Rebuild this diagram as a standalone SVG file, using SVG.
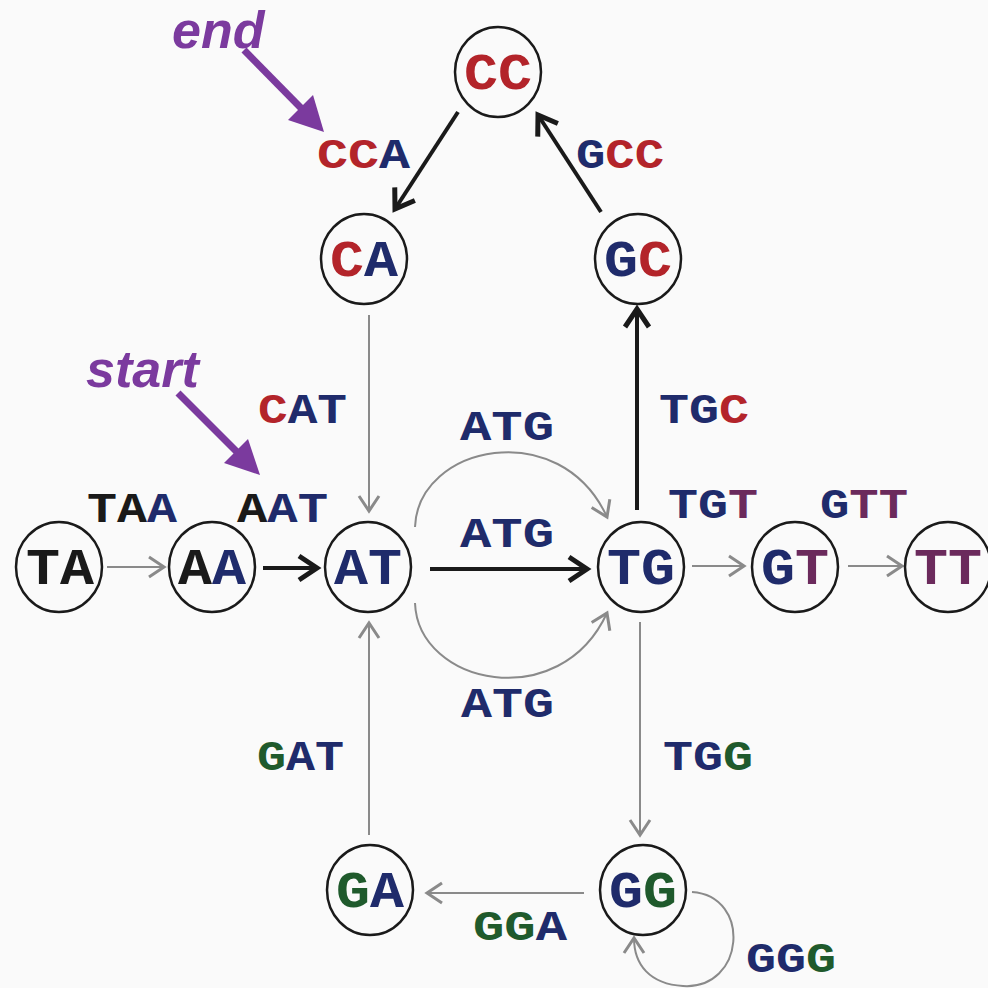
<svg xmlns="http://www.w3.org/2000/svg" width="988" height="988" viewBox="0 0 988 988">
  <style>
    .bg { fill: #fafafa; }
    .node ellipse { fill: none; stroke: #1a1a1a; stroke-width: 2.5; }
    .nl { font-family: "Liberation Mono", "Courier New", monospace; font-weight: bold; font-size: 52px; text-anchor: middle; }
    .el { font-family: "Liberation Mono", "Courier New", monospace; font-weight: bold; font-size: 42px; }
    .note { font-family: "Liberation Sans", Arial, sans-serif; font-weight: bold; font-style: italic; font-size: 52px; fill: #7b3a9e; }
    .k { fill: #1a1a1a; }
    .b { fill: #1f2b6b; }
    .r { fill: #b3242a; }
    .g { fill: #1f5a2c; }
    .p { fill: #6b2a5c; }
    .thin { fill: none; stroke: #8a8a8a; stroke-width: 2; marker-end: url(#ahGray); }
    .thick { fill: none; stroke: #1a1a1a; stroke-width: 4; marker-end: url(#ahBlack); }
    .pointer { stroke: #7b3a9e; stroke-width: 7; }
    .pointer-head { fill: #7b3a9e; }
  </style>
  <defs>
    <marker id="ahGray" markerUnits="userSpaceOnUse" markerWidth="30" markerHeight="30" refX="0" refY="0" orient="auto" overflow="visible">
      <path d="M-15,-10 L0,0 L-15,10" fill="none" stroke="#8a8a8a" stroke-width="3"/>
    </marker>
    <marker id="ahBlack" markerUnits="userSpaceOnUse" markerWidth="30" markerHeight="30" refX="0" refY="0" orient="auto" overflow="visible">
      <path d="M-18,-12 L0,0 L-18,12" fill="none" stroke="#1a1a1a" stroke-width="5"/>
    </marker>
  </defs>

  <rect class="bg" x="0" y="0" width="988" height="988"/>

  <!-- connectors -->
  <g id="connectors">
    <!-- heavy path edges -->
    <line class="thick" x1="458" y1="112" x2="395" y2="209"/>
    <line class="thick" x1="601" y1="212" x2="538" y2="115"/>
    <line class="thick" x1="637" y1="510" x2="637" y2="309"/>
    <line class="thick" x1="263" y1="568" x2="317" y2="568"/>
    <line class="thick" x1="430" y1="569" x2="587" y2="569"/>
    <!-- light edges -->
    <line class="thin" x1="107" y1="567" x2="164" y2="567"/>
    <line class="thin" x1="369" y1="315" x2="369" y2="511"/>
    <line class="thin" x1="369" y1="835" x2="369" y2="623"/>
    <line class="thin" x1="692" y1="566" x2="744" y2="566"/>
    <line class="thin" x1="848" y1="566" x2="902" y2="566"/>
    <line class="thin" x1="640" y1="622" x2="640" y2="835"/>
    <line class="thin" x1="584" y1="893" x2="427" y2="893"/>
    <path class="thin" d="M415,527 C418,445 560,415 607,517"/>
    <path class="thin" d="M415,603 C418,685 560,715 607,613"/>
    <path class="thin" d="M692,892 C752,896 745,990 683,986 C650,984 634,965 634,938"/>
  </g>

  <!-- nodes -->
  <g id="CC" class="node"><ellipse cx="498" cy="72" rx="43" ry="45"/><text class="nl" x="498" y="89" textLength="68" lengthAdjust="spacingAndGlyphs"><tspan class="r">C</tspan><tspan class="r">C</tspan></text></g>
  <g id="CA" class="node"><ellipse cx="364" cy="259" rx="43" ry="45"/><text class="nl" x="364" y="276" textLength="68" lengthAdjust="spacingAndGlyphs"><tspan class="r">C</tspan><tspan class="b">A</tspan></text></g>
  <g id="GC" class="node"><ellipse cx="638" cy="259" rx="43" ry="45"/><text class="nl" x="638" y="276" textLength="68" lengthAdjust="spacingAndGlyphs"><tspan class="b">G</tspan><tspan class="r">C</tspan></text></g>
  <g id="TA" class="node"><ellipse cx="59" cy="567" rx="43" ry="45"/><text class="nl" x="60" y="584" textLength="68" lengthAdjust="spacingAndGlyphs"><tspan class="k">T</tspan><tspan class="k">A</tspan></text></g>
  <g id="AA" class="node"><ellipse cx="212" cy="567" rx="43" ry="45"/><text class="nl" x="212" y="584" textLength="68" lengthAdjust="spacingAndGlyphs"><tspan class="k">A</tspan><tspan class="b">A</tspan></text></g>
  <g id="AT" class="node"><ellipse cx="368" cy="567" rx="43" ry="45"/><text class="nl" x="368" y="584" textLength="68" lengthAdjust="spacingAndGlyphs"><tspan class="b">A</tspan><tspan class="b">T</tspan></text></g>
  <g id="TG" class="node"><ellipse cx="641" cy="567" rx="43" ry="45"/><text class="nl" x="641" y="584" textLength="68" lengthAdjust="spacingAndGlyphs"><tspan class="b">T</tspan><tspan class="b">G</tspan></text></g>
  <g id="GT" class="node"><ellipse cx="795" cy="567" rx="43" ry="45"/><text class="nl" x="795" y="584" textLength="68" lengthAdjust="spacingAndGlyphs"><tspan class="b">G</tspan><tspan class="p">T</tspan></text></g>
  <g id="TT" class="node"><ellipse cx="948" cy="567" rx="43" ry="45"/><text class="nl" x="948" y="584" textLength="68" lengthAdjust="spacingAndGlyphs"><tspan class="p">T</tspan><tspan class="p">T</tspan></text></g>
  <g id="GA" class="node"><ellipse cx="370" cy="890" rx="43" ry="45"/><text class="nl" x="370" y="907" textLength="68" lengthAdjust="spacingAndGlyphs"><tspan class="g">G</tspan><tspan class="b">A</tspan></text></g>
  <g id="GG" class="node"><ellipse cx="643" cy="890" rx="43" ry="45"/><text class="nl" x="643" y="907" textLength="68" lengthAdjust="spacingAndGlyphs"><tspan class="b">G</tspan><tspan class="g">G</tspan></text></g>

  <!-- edge labels -->
  <g id="edge-labels">
    <text class="el" x="317" y="168" textLength="93" lengthAdjust="spacingAndGlyphs"><tspan class="r">C</tspan><tspan class="r">C</tspan><tspan class="b">A</tspan></text>
    <text class="el" x="576" y="168" textLength="88" lengthAdjust="spacingAndGlyphs"><tspan class="b">G</tspan><tspan class="r">C</tspan><tspan class="r">C</tspan></text>
    <text class="el" x="258" y="423" textLength="89" lengthAdjust="spacingAndGlyphs"><tspan class="r">C</tspan><tspan class="b">A</tspan><tspan class="b">T</tspan></text>
    <text class="el" x="87" y="522" textLength="90" lengthAdjust="spacingAndGlyphs"><tspan class="k">T</tspan><tspan class="k">A</tspan><tspan class="b">A</tspan></text>
    <text class="el" x="237" y="522" textLength="91" lengthAdjust="spacingAndGlyphs"><tspan class="k">A</tspan><tspan class="b">A</tspan><tspan class="b">T</tspan></text>
    <text class="el b" x="460" y="440" textLength="94" lengthAdjust="spacingAndGlyphs">ATG</text>
    <text class="el b" x="460" y="547" textLength="94" lengthAdjust="spacingAndGlyphs">ATG</text>
    <text class="el b" x="461" y="717" textLength="93" lengthAdjust="spacingAndGlyphs">ATG</text>
    <text class="el" x="659" y="423" textLength="90" lengthAdjust="spacingAndGlyphs"><tspan class="b">T</tspan><tspan class="b">G</tspan><tspan class="r">C</tspan></text>
    <text class="el" x="668" y="518" textLength="90" lengthAdjust="spacingAndGlyphs"><tspan class="b">T</tspan><tspan class="b">G</tspan><tspan class="p">T</tspan></text>
    <text class="el" x="820" y="518" textLength="88" lengthAdjust="spacingAndGlyphs"><tspan class="b">G</tspan><tspan class="p">T</tspan><tspan class="p">T</tspan></text>
    <text class="el" x="663" y="770" textLength="90" lengthAdjust="spacingAndGlyphs"><tspan class="b">T</tspan><tspan class="b">G</tspan><tspan class="g">G</tspan></text>
    <text class="el" x="257" y="770" textLength="87" lengthAdjust="spacingAndGlyphs"><tspan class="g">G</tspan><tspan class="b">A</tspan><tspan class="b">T</tspan></text>
    <text class="el" x="473" y="940" textLength="94" lengthAdjust="spacingAndGlyphs"><tspan class="g">G</tspan><tspan class="g">G</tspan><tspan class="b">A</tspan></text>
    <text class="el" x="746" y="972" textLength="90" lengthAdjust="spacingAndGlyphs"><tspan class="b">G</tspan><tspan class="b">G</tspan><tspan class="g">G</tspan></text>
  </g>

  <!-- start / end pointers -->
  <g id="end-marker">
    <text class="note" x="172" y="48">end</text>
    <line class="pointer" x1="244" y1="50" x2="301" y2="108"/>
    <polygon class="pointer-head" points="324,132 288,120 313,95"/>
  </g>
  <g id="start-marker">
    <text class="note" x="86" y="387">start</text>
    <line class="pointer" x1="178" y1="393" x2="237" y2="452"/>
    <polygon class="pointer-head" points="260,475 224,463 248,439"/>
  </g>
</svg>
